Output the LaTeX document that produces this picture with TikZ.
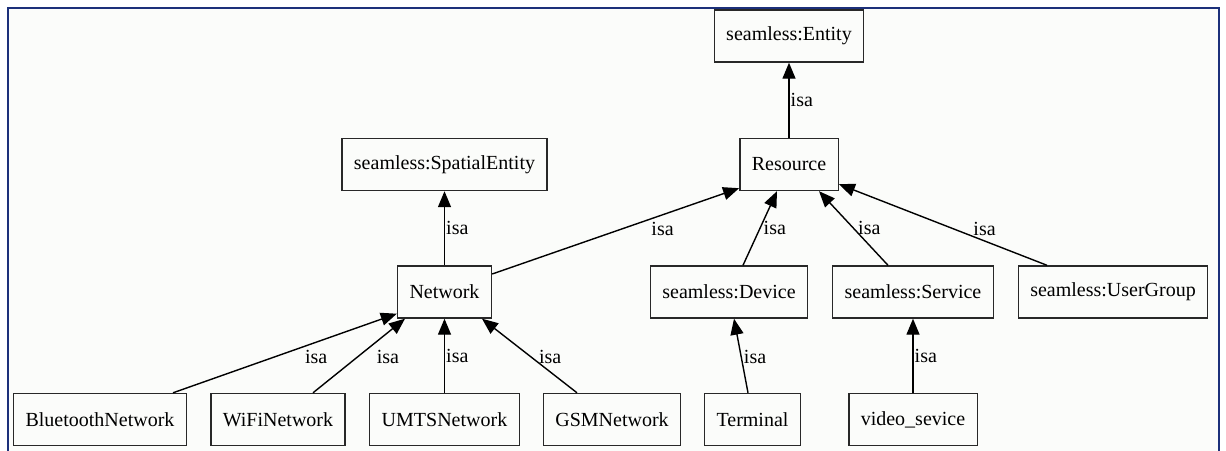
\documentclass[tikz,border=0pt]{standalone}
\usepackage{fontspec}
\setmainfont{Liberation Serif}
\usetikzlibrary{arrows.meta}
\definecolor{frameblue}{RGB}{28,48,122}
\definecolor{paper}{RGB}{251,252,250}
\definecolor{boxline}{RGB}{40,40,40}

\begin{document}
\begin{tikzpicture}[x=0.5pt,y=-0.5pt,
  cls/.style={draw=boxline,line width=0.7pt,inner xsep=6pt,minimum width=46.5pt,minimum height=26pt,font=\fontsize{10}{12}\selectfont},
  isa/.style={draw=black,line width=0.7pt,-{Triangle[length=8pt,width=6.5pt]}},
  lbl/.style={inner sep=0.5pt,font=\fontsize{10}{12}\selectfont}]
\useasboundingbox (0,0) rectangle (1226,450);
\fill[paper] (8,8) rectangle (1219,470);
\draw[frameblue,line width=1.2pt] (8,470) -- (8,8) -- (1219,8) -- (1219,470);

\node[cls] (41) at (789,36) {seamless:Entity};

\node[cls] (31) at (444.5,164.5) {seamless:SpatialEntity};
\node[cls] (32) at (789,164.5) {Resource};

\node[cls] (21) at (444.5,292) {Network};
\node[cls] (22) at (729,292) {seamless:Device};
\node[cls] (23) at (913,292) {seamless:Service};
\node[cls] (24) at (1113,292) {seamless:UserGroup};

\node[cls] (11) at (100,419.5) {BluetoothNetwork};
\node[cls] (12) at (278,419.5) {WiFiNetwork};
\node[cls] (13) at (444.5,419.5) {UMTSNetwork};
\node[cls] (14) at (612,419.5) {GSMNetwork};
\node[cls] (15) at (752.5,419.5) {Terminal};
\node[cls] (16) at (913,419.5) {video\_sevice};

\draw[isa] (32) -- node[lbl,midway,anchor=west] {isa} (41);
\draw[isa] (21) -- node[lbl,midway,anchor=west] {isa} (31);
\draw[isa] ([yshift=9pt]21.east) -- node[lbl,pos=0.69,below=3pt] {isa} ([yshift=1.5pt]32.south west);
\draw[isa] ([xshift=7pt]22.north) -- node[lbl,midway,right=1pt] {isa} ([xshift=-6pt]32.south);
\draw[isa] ([xshift=-12.5pt]23.north) -- node[lbl,midway,right=1.5pt] {isa} ([xshift=15pt]32.south);
\draw[isa] ([xshift=-33pt]24.north) -- node[lbl,pos=0.3,above=2pt] {isa} ([yshift=3.5pt]32.south east);

\draw[isa] ([xshift=36.5pt]11.north) -- node[lbl,pos=0.64,below=3pt] {isa} ([yshift=2.5pt]21.south west);
\draw[isa] ([xshift=17.5pt]12.north) -- node[lbl,pos=0.48,right=9pt] {isa} ([xshift=-19.75pt]21.south);
\draw[isa] (13) -- node[lbl,midway,anchor=west] {isa} (21);
\draw[isa] ([xshift=-17.5pt]14.north) -- node[lbl,pos=0.48,right=3pt] {isa} ([xshift=18.75pt]21.south);
\draw[isa] ([xshift=-2.25pt]15.north) -- node[lbl,pos=0.48,right=0.5pt] {isa} ([xshift=2.5pt]22.south);
\draw[isa] (16) -- node[lbl,midway,anchor=west] {isa} (23);
\end{tikzpicture}
\end{document}
